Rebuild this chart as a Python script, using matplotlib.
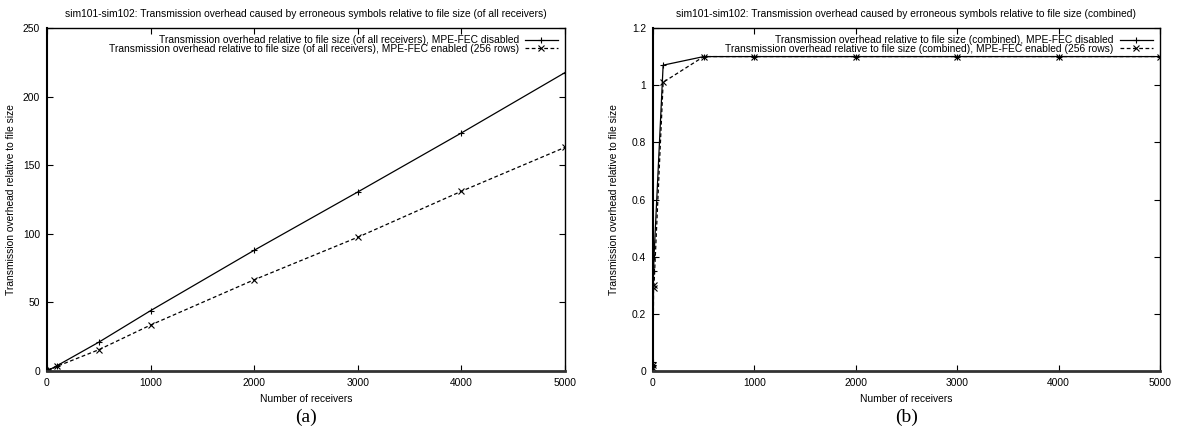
import matplotlib.pyplot as plt
from matplotlib.ticker import MultipleLocator

plt.rcParams['font.family'] = ['Liberation Sans', 'DejaVu Sans']

receivers = [1, 2, 5, 10, 100, 500, 1000, 2000, 3000, 4000, 5000]

# (a) overhead of all receivers
all_disabled = [0.02, 0.05, 0.2, 0.4, 4.0, 21.0, 44.0, 88.0, 130.5, 173.5, 217.5]
all_enabled = [0.01, 0.04, 0.15, 0.3, 3.5, 15.5, 33.5, 66.5, 97.5, 131.0, 163.0]

# (b) combined overhead
comb_disabled = [0.02, 0.03, 0.35, 0.40, 1.07, 1.10, 1.10, 1.10, 1.10, 1.10, 1.10]
comb_enabled = [0.01, 0.02, 0.29, 0.30, 1.01, 1.10, 1.10, 1.10, 1.10, 1.10, 1.10]

titles = ['sim101-sim102: Transmission overhead caused by erroneous symbols relative to file size (of all receivers)',
          'sim101-sim102: Transmission overhead caused by erroneous symbols relative to file size (combined)']
labels_a = ['Transmission overhead relative to file size (of all receivers), MPE-FEC disabled',
            'Transmission overhead relative to file size (of all receivers), MPE-FEC enabled (256 rows)']
labels_b = ['Transmission overhead relative to file size (combined), MPE-FEC disabled',
            'Transmission overhead relative to file size (combined), MPE-FEC enabled (256 rows)']

FS = 7.4


def draw_panel(ax, dis, ena, labels, title, ymax, ystep, letter, ylpad):
    ax.plot(receivers, dis, '-', color='black', lw=0.9, marker='+', ms=5,
            mew=0.8, label=labels[0])
    ax.plot(receivers, ena, '--', color='black', lw=0.9, marker='x', ms=4,
            mew=0.8, dashes=(3, 2), label=labels[1])
    ax.set_xlim(0, 5000)
    ax.set_ylim(0, ymax)
    ax.xaxis.set_major_locator(MultipleLocator(1000))
    ax.yaxis.set_major_locator(MultipleLocator(ystep))
    ax.tick_params(direction='in', top=True, right=True, length=4,
                   width=0.8, labelsize=FS)
    ax.tick_params(axis='x', pad=5)
    ax.tick_params(axis='y', pad=5)
    for s in ax.spines.values():
        s.set_linewidth(1.0)
    ax.spines['bottom'].set_linewidth(2.0)
    ax.spines['bottom'].set_color('#333333')
    ax.spines['left'].set_linewidth(1.5)
    ax.set_title(title, fontsize=FS, pad=8)
    ax.set_xlabel('Number of receivers', fontsize=FS, labelpad=4)
    ax.set_ylabel('Transmission overhead relative to file size', fontsize=FS, labelpad=ylpad)
    ax.legend(loc='upper right', frameon=False, markerfirst=False, fontsize=FS,
              handlelength=3.2, handletextpad=0.6, labelspacing=-0.15,
              borderaxespad=0.3)
    ax.text(0.5, -0.134, letter, transform=ax.transAxes, ha='center', va='center',
            fontsize=14, family='Liberation Serif')


W, H = 1179, 428
fig = plt.figure(figsize=(W / 100, H / 100), dpi=100)
ax1 = fig.add_axes([47 / W, (H - 371) / H, 518 / W, 343 / H])
ax2 = fig.add_axes([653 / W, (H - 371) / H, 507 / W, 343 / H])

draw_panel(ax1, all_disabled, all_enabled, labels_a, titles[0], 250, 50, '(a)', 5)
draw_panel(ax2, comb_disabled, comb_enabled, labels_b, titles[1], 1.2, 0.2, '(b)', 9)
ax2.yaxis.set_major_formatter(plt.FuncFormatter(lambda v, p: ('%g' % round(v, 2))))

plt.savefig('out.png')
